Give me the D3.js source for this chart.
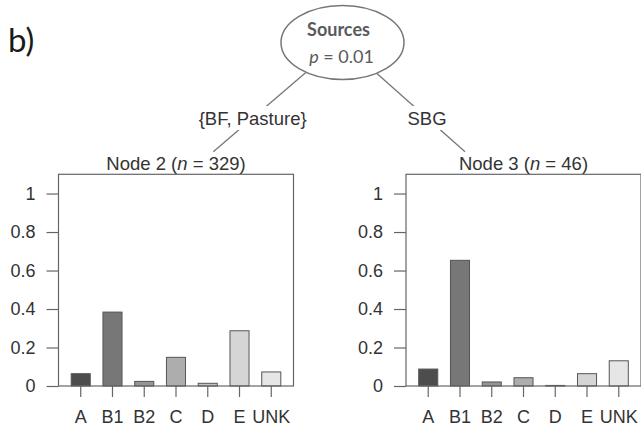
<!DOCTYPE html>
<html>
<head>
<meta charset="utf-8">
<script src="https://cdn.jsdelivr.net/npm/d3@7"></script>
<style>
  body { margin: 0; background: #fff; }
  svg { display: block; }
</style>
</head>
<body>
<svg id="chart" width="641" height="429"></svg>
<script>
/* ----------  DATA  ---------- */
const categories = ['A', 'B1', 'B2', 'C', 'D', 'E', 'UNK']
const node2Values = [0.064, 0.384, 0.024, 0.149, 0.014, 0.287, 0.073]
const node3Values = [0.088, 0.653, 0.021, 0.043, 0.003, 0.064, 0.131]
const yTicks = [0, 0.2, 0.4, 0.6, 0.8, 1]
const nodeIds = [2, 3]
const nodeSizes = [329, 46]
const edgeLabels = ['{BF, Pasture}', 'SBG']
const splitVariable = 'Sources'
const splitP = '0.01'

// R gray.colors(7) style fills
const barColors = ['#4d4d4d', '#777777', '#959595', '#adadad', '#c2c2c2', '#d5d5d5', '#e6e6e6']

/* ----------  LAYOUT  ---------- */
const svg = d3.select('#chart')
const FONT = '"Liberation Sans", Arial, sans-serif'
const LABEL_FONT = 'Lato, "Open Sans", sans-serif'

const PANEL_W = 235
const PANEL_TOP = 174.3
const PANEL_BOTTOM = 386
const panelLefts = [58.5, 406]
const ROOT = { x: 341.5, y: 42 }
const ROOT_RX = 61.5
const ROOT_RY = 37
const EDGE_END_Y = 151.7
const LABEL_Y = 118

const y = d3.scaleLinear()
  .domain([0, 1.1])
  .range([PANEL_BOTTOM, PANEL_TOP])

const color = d3.scaleOrdinal()
  .domain(categories)
  .range(barColors)

/* ----------  PANEL  ---------- */
function drawPanel (left, values, id, n) {
  const g = svg.append('g')

  const x = d3.scaleBand()
    .domain(categories)
    .range([left, left + PANEL_W])
    .paddingInner(0.4)
    .paddingOuter(0.4)

  // y axis (ticks only, the frame is the axis line)
  const yAxis = g.append('g')
    .attr('transform', `translate(${left}, 0)`)
    .call(d3.axisLeft(y)
      .tickValues(yTicks)
      .tickSize(12)
      .tickPadding(11)
      .tickFormat(d3.format('~g')))
  yAxis.select('.domain').remove()
  yAxis.selectAll('line').attr('stroke', '#666').attr('stroke-width', 1.2)
  yAxis.selectAll('text')
    .style('font-family', FONT)
    .style('font-size', '18px')
    .attr('fill', '#333')

  // x axis
  const xAxis = g.append('g')
    .attr('transform', `translate(0, ${PANEL_BOTTOM})`)
    .call(d3.axisBottom(x)
      .tickSize(11)
      .tickPadding(13))
  xAxis.select('.domain').remove()
  xAxis.selectAll('line').attr('stroke', '#666').attr('stroke-width', 1.2)
  xAxis.selectAll('text')
    .style('font-family', FONT)
    .style('font-size', '18px')
    .attr('fill', '#333')

  // bars
  g.selectAll('.bar')
    .data(categories.map((c, i) => ({ c, v: values[i] })))
    .join('rect')
    .attr('class', 'bar')
    .attr('x', d => x(d.c))
    .attr('y', d => y(d.v))
    .attr('width', x.bandwidth())
    .attr('height', d => y(0) - y(d.v))
    .attr('fill', d => color(d.c))
    .attr('stroke', '#555')
    .attr('stroke-width', 1)

  // frame
  g.append('rect')
    .attr('x', left)
    .attr('y', PANEL_TOP)
    .attr('width', PANEL_W)
    .attr('height', PANEL_BOTTOM - PANEL_TOP)
    .attr('fill', 'none')
    .attr('stroke', '#666')
    .attr('stroke-width', 1.2)

  // title
  const title = g.append('text')
    .attr('x', left + PANEL_W / 2)
    .attr('y', 170)
    .attr('text-anchor', 'middle')
    .style('font-family', FONT)
    .style('font-size', '18.5px')
    .attr('fill', '#333')
  title.append('tspan').text(`Node ${id} (`)
  title.append('tspan').style('font-style', 'italic').text('n')
  title.append('tspan').text(` = ${n})`)
}

/* ----------  EDGES  ---------- */
const edgeEnds = [{ x: 213.3, y: EDGE_END_Y }, { x: 465, y: EDGE_END_Y }]

edgeEnds.forEach((end, i) => {
  svg.append('line')
    .attr('x1', ROOT.x)
    .attr('y1', ROOT.y)
    .attr('x2', end.x)
    .attr('y2', end.y)
    .attr('stroke', '#777')
    .attr('stroke-width', 1.3)

  // label sits on the edge, with a white box hiding the line behind it
  const t = (LABEL_Y - ROOT.y) / (end.y - ROOT.y)
  const lx = ROOT.x + t * (end.x - ROOT.x)
  svg.append('rect')
    .attr('x', lx - 40)
    .attr('y', LABEL_Y - 12)
    .attr('width', 80)
    .attr('height', 24)
    .attr('fill', '#fff')
  svg.append('text')
    .attr('x', lx)
    .attr('y', LABEL_Y + 7)
    .attr('text-anchor', 'middle')
    .style('font-family', FONT)
    .style('font-size', '18.5px')
    .attr('fill', '#333')
    .text(edgeLabels[i])
})

/* ----------  ROOT NODE  ---------- */
svg.append('ellipse')
  .attr('cx', ROOT.x + 1)
  .attr('cy', ROOT.y + 0.5)
  .attr('rx', ROOT_RX)
  .attr('ry', ROOT_RY)
  .attr('fill', '#fff')
  .attr('stroke', '#777')
  .attr('stroke-width', 1.5)

svg.append('text')
  .attr('x', ROOT.x - 3)
  .attr('y', 36)
  .attr('text-anchor', 'middle')
  .style('font-family', LABEL_FONT)
  .style('font-size', '18px')
  .style('font-weight', 700)
  .attr('fill', '#5a5a5a')
  .text(splitVariable)

const pText = svg.append('text')
  .attr('x', ROOT.x)
  .attr('y', 63)
  .attr('text-anchor', 'middle')
  .style('font-family', LABEL_FONT)
  .style('font-size', '18px')
  .attr('fill', '#5a5a5a')
pText.append('tspan').style('font-style', 'italic').text('p')
pText.append('tspan').text(` = ${splitP}`)

/* ----------  PANELS  ---------- */
drawPanel(panelLefts[0], node2Values, nodeIds[0], nodeSizes[0])
drawPanel(panelLefts[1], node3Values, nodeIds[1], nodeSizes[1])

// panel letter
svg.append('text')
  .attr('x', 8)
  .attr('y', 52)
  .style('font-family', LABEL_FONT)
  .style('font-size', '33px')
  .attr('fill', '#1a1a1a')
  .text('b)')
</script>
</body>
</html>
